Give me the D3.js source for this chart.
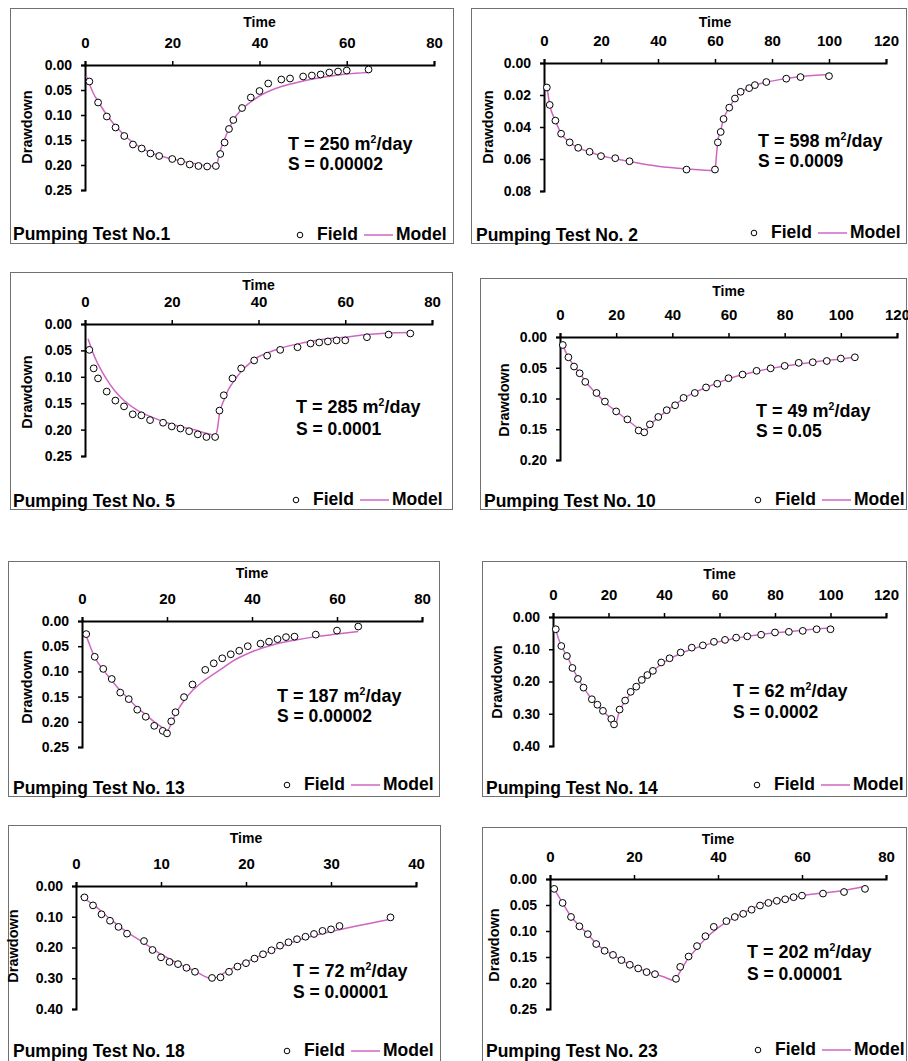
<!DOCTYPE html>
<html>
<head>
<meta charset="utf-8">
<script src="https://cdn.jsdelivr.net/npm/d3@7"></script>
<style>
  body { margin: 0; background: #fff; }
  svg { display: block; }
  text { font-family: "Liberation Sans", Arial, sans-serif; font-weight: bold; fill: #000; }
</style>
</head>
<body>
<div id="chart"></div>
<script>
// field observations (time, drawdown) and fitted model curve, one set per test
var fieldTime1 = [1,3,5,7,9,11,13,15,17,20,22,24,26,28,30,31,32,33,34,36,38,40,42,45,47,50,52,54,56,58,60,65];
var fieldDraw1 = [0.033,0.075,0.103,0.125,0.142,0.159,0.167,0.177,0.182,0.188,0.193,0.199,0.202,0.203,0.202,0.178,0.155,0.128,0.110,0.086,0.065,0.052,0.037,0.029,0.027,0.023,0.021,0.019,0.015,0.013,0.011,0.009];
var modelTime1 = [0.3,1,2,3,5,7,10,15,20,25,30,30.5,31,32,33,34,36,38,40,42,45,50,55,60,65];
var modelDraw1 = [0.022,0.038,0.058,0.073,0.100,0.122,0.148,0.175,0.188,0.197,0.203,0.190,0.172,0.148,0.128,0.110,0.088,0.074,0.062,0.053,0.043,0.032,0.024,0.018,0.015];

var fieldTime2 = [1,2,4,6,9,12,16,20,25,30,50,60,61,62,63,65,67,69,72,74,78,85,90,100];
var fieldDraw2 = [0.0153,0.0262,0.036,0.0442,0.0496,0.053,0.0555,0.0582,0.0595,0.0614,0.0666,0.0666,0.0496,0.0431,0.035,0.0279,0.0222,0.018,0.0157,0.0138,0.0119,0.0098,0.0088,0.0082];
var modelTime2 = [1,2,4,6,9,12,16,20,25,30,40,50,60,60.5,61,62,63,65,67,69,72,74,78,85,90,100];
var modelDraw2 = [0.0142,0.026,0.036,0.044,0.0495,0.053,0.0555,0.058,0.0598,0.0615,0.0645,0.0662,0.0672,0.058,0.049,0.042,0.035,0.028,0.0222,0.018,0.0157,0.014,0.012,0.0097,0.0085,0.0072];

var fieldTime5 = [1,2,3,5,7,9,11,13,15,18,20,22,24,26,28,30,31,32,34,36,39,42,45,49,52,54,56,58,60,65,70,75];
var fieldDraw5 = [0.049,0.084,0.103,0.128,0.145,0.156,0.171,0.173,0.182,0.187,0.194,0.198,0.203,0.209,0.214,0.214,0.164,0.135,0.103,0.084,0.069,0.060,0.049,0.044,0.037,0.035,0.033,0.031,0.031,0.025,0.020,0.018];
var modelTime5 = [0.7,1,2,3,5,7,9,12,15,20,25,30,30.5,31,32,33,34,36,38,40,42,45,50,55,60,65,70,75];
var modelDraw5 = [0.028,0.035,0.058,0.076,0.105,0.128,0.145,0.163,0.175,0.190,0.200,0.210,0.200,0.170,0.145,0.125,0.112,0.090,0.074,0.062,0.055,0.046,0.036,0.029,0.025,0.020,0.017,0.016];

var fieldTime10 = [1,3,5,7,9,13,16,20,24,28,30,32,35,38,41,44,48,52,56,60,65,70,75,80,85,90,95,100,105];
var fieldDraw10 = [0.013,0.033,0.048,0.059,0.073,0.091,0.105,0.121,0.134,0.152,0.155,0.142,0.130,0.119,0.111,0.099,0.091,0.082,0.076,0.067,0.061,0.055,0.051,0.047,0.042,0.041,0.039,0.035,0.033];
var modelTime10 = [0.6,3,5,7,9,13,16,20,24,28,29.5,32,35,38,41,44,48,52,56,60,65,70,75,80,85,90,95,100,105];
var modelDraw10 = [0.010,0.033,0.047,0.058,0.072,0.092,0.106,0.121,0.135,0.150,0.157,0.143,0.131,0.120,0.110,0.100,0.090,0.082,0.075,0.068,0.061,0.056,0.051,0.047,0.044,0.041,0.038,0.036,0.033];

var fieldTime13 = [1,3,5,7,9,11,13,15,17,19,20,21,22,24,26,29,31,33,35,37,39,42,44,46,48,50,55,60,65];
var fieldDraw13 = [0.026,0.071,0.095,0.115,0.142,0.155,0.176,0.190,0.208,0.218,0.223,0.199,0.181,0.151,0.126,0.097,0.084,0.074,0.066,0.059,0.050,0.045,0.041,0.036,0.032,0.031,0.027,0.019,0.011];
var modelTime13 = [0.8,1,3,5,7,9,11,13,15,17,19,20,21,22,24,26,28,30,33,35,40,45,50,55,60,65];
var modelDraw13 = [0.026,0.030,0.072,0.097,0.118,0.138,0.155,0.172,0.186,0.200,0.212,0.218,0.204,0.185,0.158,0.138,0.123,0.111,0.094,0.082,0.061,0.047,0.038,0.031,0.026,0.021];

var fieldTime14 = [1,3,5,7,9,11,14,16,18,21,22,24,26,28,30,32,34,36,39,42,46,50,54,58,62,66,70,75,80,85,90,95,100];
var fieldDraw14 = [0.038,0.090,0.121,0.158,0.192,0.219,0.255,0.272,0.291,0.316,0.333,0.287,0.259,0.232,0.216,0.195,0.180,0.167,0.141,0.128,0.110,0.095,0.088,0.077,0.071,0.064,0.060,0.055,0.048,0.046,0.043,0.038,0.038];
var modelTime14 = [0.6,1,3,5,7,9,11,14,16,18,21,22.3,24,26,28,30,32,34,36,39,42,46,50,54,58,62,66,70,75,80,85,90,95,100];
var modelDraw14 = [0.026,0.040,0.090,0.120,0.157,0.190,0.218,0.255,0.274,0.292,0.318,0.336,0.290,0.262,0.236,0.216,0.198,0.183,0.168,0.146,0.130,0.113,0.100,0.089,0.080,0.073,0.066,0.060,0.054,0.049,0.045,0.041,0.037,0.034];

var fieldTime18 = [1,2,3,4,5,6,8,9,10,11,12,13,14,16,17,18,19,20,21,22,23,24,25,26,27,28,29,30,31,37];
var fieldDraw18 = [0.037,0.063,0.092,0.113,0.133,0.155,0.179,0.208,0.232,0.247,0.254,0.266,0.279,0.299,0.297,0.279,0.262,0.251,0.236,0.222,0.209,0.194,0.183,0.173,0.165,0.156,0.146,0.141,0.130,0.102];
var modelTime18 = [0.5,2,4,6,8,10,12,14,16,18,20,22,25,28,30,33,37];
var modelDraw18 = [0.033,0.060,0.107,0.150,0.185,0.222,0.252,0.277,0.301,0.273,0.248,0.222,0.187,0.161,0.148,0.130,0.108];

var fieldTime23 = [1,3,5,7,9,11,13,15,17,19,21,23,25,30,31,33,35,37,39,42,44,46,48,50,52,54,56,58,60,65,70,75];
var fieldDraw23 = [0.019,0.046,0.073,0.091,0.106,0.125,0.138,0.146,0.156,0.165,0.172,0.179,0.183,0.192,0.169,0.149,0.129,0.110,0.092,0.081,0.073,0.067,0.059,0.051,0.046,0.042,0.039,0.035,0.032,0.028,0.025,0.019];
var modelTime23 = [0.5,1,3,5,7,9,11,13,15,17,19,21,23,25,27,29.5,31,32.7,35,37,40,42,45,48,50,55,60,65,70,75];
var modelDraw23 = [0.014,0.020,0.046,0.072,0.090,0.106,0.124,0.137,0.146,0.156,0.165,0.172,0.178,0.183,0.188,0.195,0.178,0.155,0.133,0.115,0.094,0.083,0.069,0.058,0.049,0.040,0.032,0.027,0.022,0.014];

// labels and axis extents
var titles = ["Pumping Test No.1", "Pumping Test No. 2", "Pumping Test No. 5", "Pumping Test No. 10",
  "Pumping Test No. 13", "Pumping Test No. 14", "Pumping Test No. 18", "Pumping Test No. 23"];
var tValues = ["250", "598", "285", "49", "187", "62", "72", "202"];
var sValues = ["0.00002", "0.0009", "0.0001", "0.05", "0.00002", "0.0002", "0.00001", "0.00001"];
var xMaxes = [80, 120, 80, 120, 80, 120, 40, 80];
var xSteps = [20, 20, 20, 20, 20, 20, 10, 20];
var yMaxes = [0.25, 0.08, 0.25, 0.20, 0.25, 0.40, 0.40, 0.25];
var ySteps = [0.05, 0.02, 0.05, 0.05, 0.05, 0.10, 0.10, 0.05];

var fieldTimes = [fieldTime1, fieldTime2, fieldTime5, fieldTime10, fieldTime13, fieldTime14, fieldTime18, fieldTime23];
var fieldDraws = [fieldDraw1, fieldDraw2, fieldDraw5, fieldDraw10, fieldDraw13, fieldDraw14, fieldDraw18, fieldDraw23];
var modelTimes = [modelTime1, modelTime2, modelTime5, modelTime10, modelTime13, modelTime14, modelTime18, modelTime23];
var modelDraws = [modelDraw1, modelDraw2, modelDraw5, modelDraw10, modelDraw13, modelDraw14, modelDraw18, modelDraw23];

// where each panel sits on the page
var panels = [
  {box: [10, 8, 453, 243], x: [85, 434], y: [65, 190], timeY: 27, dd: [27, 127], ts: [288, 150, 170], leg: [300, 235], title: [13, 240]},
  {box: [471, 8, 906, 243], x: [544, 886], y: [63, 191], timeY: 27, dd: [488, 127], ts: [758, 147, 167], leg: [754, 233], title: [476, 241]},
  {box: [10, 272, 452, 509], x: [85, 432], y: [324, 456], timeY: 290, dd: [27, 392], ts: [296, 413, 435], leg: [296, 500], title: [13, 507]},
  {box: [480, 278, 906, 509], x: [560, 897], y: [337, 460], timeY: 296, dd: [504, 400], ts: [756, 417, 437], leg: [758, 500], title: [484, 507]},
  {box: [8, 561, 439, 796], x: [82, 422], y: [621, 747], timeY: 578, dd: [27, 687], ts: [277, 702, 722], leg: [287, 785], title: [13, 794]},
  {box: [482, 561, 906, 796], x: [553, 886], y: [617, 746], timeY: 579, dd: [497, 682], ts: [733, 697, 718], leg: [757, 785], title: [486, 794]},
  {box: [8, 825, 440, 1064], x: [76, 416], y: [886, 1009], timeY: 843, dd: [13, 946], ts: [293, 977, 998], leg: [287, 1051], title: [13, 1057]},
  {box: [482, 827, 906, 1064], x: [550, 886], y: [879, 1009], timeY: 844, dd: [494, 945], ts: [747, 958, 980], leg: [758, 1050], title: [486, 1057]}
];

var modelColor = "#d066c4";

var svg = d3.select("#chart").append("svg")
  .attr("width", 908)
  .attr("height", 1061);

panels.forEach(function (p, i) {
  var g = svg.append("g");

  // panel frame
  g.append("rect")
    .attr("x", p.box[0] + 0.5)
    .attr("y", p.box[1] + 0.5)
    .attr("width", p.box[2] - p.box[0])
    .attr("height", p.box[3] - p.box[1])
    .attr("fill", "none")
    .attr("stroke", "#707070")
    .attr("stroke-width", 1);

  var x = d3.scaleLinear().domain([0, xMaxes[i]]).range(p.x);
  var y = d3.scaleLinear().domain([0, yMaxes[i]]).range(p.y);

  // time axis along the top
  var xAxis = g.append("g")
    .attr("transform", "translate(0," + p.y[0] + ")")
    .call(d3.axisTop(x)
      .tickValues(d3.range(0, xMaxes[i] + 1e-9, xSteps[i]))
      .tickFormat(d3.format("d"))
      .tickSize(4).tickPadding(13));
  xAxis.attr("font-family", null).attr("font-size", null);
  xAxis.selectAll("text").style("font-size", "15px");

  // drawdown axis, increasing downwards
  var yAxis = g.append("g")
    .attr("transform", "translate(" + p.x[0] + ",0)")
    .call(d3.axisLeft(y)
      .tickValues(d3.range(0, yMaxes[i] + 1e-9, ySteps[i]))
      .tickFormat(d3.format(".2f"))
      .tickSize(4).tickPadding(9));
  yAxis.attr("font-family", null).attr("font-size", null);
  yAxis.selectAll("text").style("font-size", "14px");

  g.selectAll(".domain").attr("stroke", "#000").attr("stroke-width", 2);
  g.selectAll(".tick line").attr("stroke", "#000").attr("stroke-width", 1.5);

  g.append("text")
    .attr("x", (p.x[0] + p.x[1]) / 2)
    .attr("y", p.timeY)
    .attr("text-anchor", "middle")
    .style("font-size", "14px")
    .text("Time");

  g.append("text")
    .attr("transform", "translate(" + p.dd[0] + "," + p.dd[1] + ") rotate(-90)")
    .attr("dy", "0.35em")
    .attr("text-anchor", "middle")
    .style("font-size", "14.5px")
    .text("Drawdown");

  // model curve
  var model = modelTimes[i].map(function (t, k) { return [t, modelDraws[i][k]]; });
  g.append("path")
    .datum(model)
    .attr("fill", "none")
    .attr("stroke", modelColor)
    .attr("stroke-width", 1.5)
    .attr("d", d3.line()
      .x(function (d) { return x(d[0]); })
      .y(function (d) { return y(d[1]); })
      .curve(d3.curveMonotoneX));

  // field points
  var field = fieldTimes[i].map(function (t, k) { return [t, fieldDraws[i][k]]; });
  g.selectAll(".pt")
    .data(field)
    .enter().append("circle")
    .attr("class", "pt")
    .attr("cx", function (d) { return x(d[0]); })
    .attr("cy", function (d) { return y(d[1]); })
    .attr("r", 3.4)
    .attr("fill", "#fff")
    .attr("stroke", "#000")
    .attr("stroke-width", 1);

  // fitted parameters
  var tLabel = g.append("text")
    .attr("x", p.ts[0])
    .attr("y", p.ts[1])
    .style("font-size", "18px");
  tLabel.append("tspan").text("T = " + tValues[i] + " m");
  tLabel.append("tspan").attr("dy", -7).style("font-size", "10.5px").text("2");
  tLabel.append("tspan").attr("dy", 7).text("/day");

  g.append("text")
    .attr("x", p.ts[0])
    .attr("y", p.ts[2])
    .style("font-size", "17.5px")
    .text("S = " + sValues[i]);

  // title and legend
  g.append("text")
    .attr("x", p.title[0])
    .attr("y", p.title[1])
    .style("font-size", "17.5px")
    .text(titles[i]);

  g.append("circle")
    .attr("cx", p.leg[0])
    .attr("cy", p.leg[1])
    .attr("r", 2.8)
    .attr("fill", "#fff")
    .attr("stroke", "#000")
    .attr("stroke-width", 1);
  g.append("text")
    .attr("x", p.leg[0] + 17)
    .attr("y", p.leg[1] + 5)
    .style("font-size", "17.5px")
    .text("Field");
  g.append("line")
    .attr("x1", p.leg[0] + 64)
    .attr("x2", p.leg[0] + 93)
    .attr("y1", p.leg[1])
    .attr("y2", p.leg[1])
    .attr("stroke", modelColor)
    .attr("stroke-width", 1.5);
  g.append("text")
    .attr("x", p.leg[0] + 96)
    .attr("y", p.leg[1] + 5)
    .style("font-size", "17.5px")
    .text("Model");
});
</script>
</body>
</html>
